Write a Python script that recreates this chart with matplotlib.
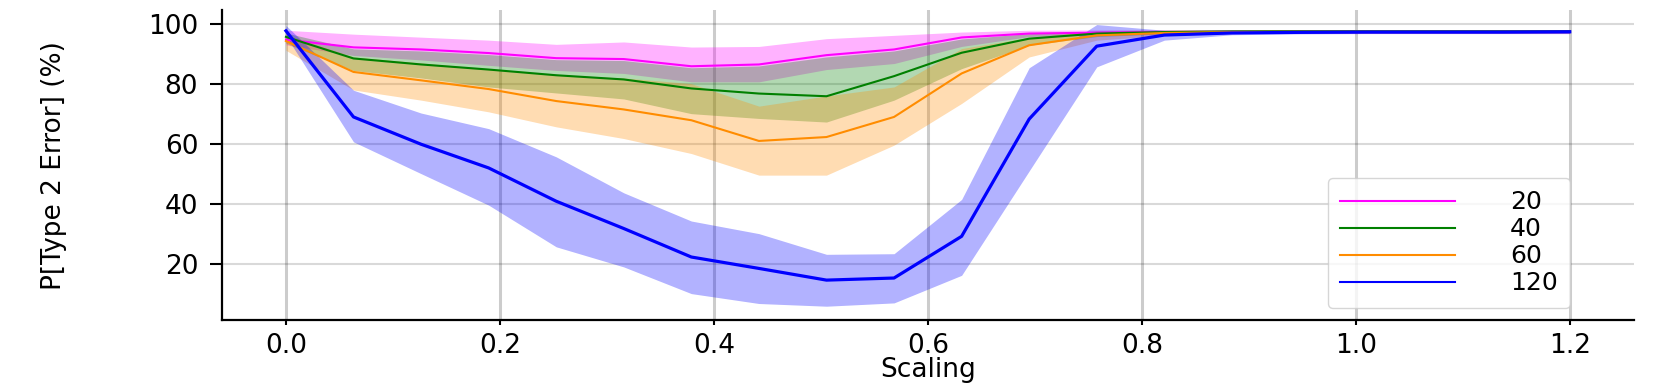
"""Type 2 error vs scaling, one band per sample size (mean line + spread band)."""
import numpy as np
import matplotlib
matplotlib.use("Agg")
import matplotlib.pyplot as plt
from matplotlib.lines import Line2D

# scaling grid (20 evaluation points between 0 and 1.2)
scaling = np.linspace(0.0, 1.2, 20)

# sample size 20
mean_20 = [94.8, 92.2, 91.5, 90.3, 88.6, 88.3, 85.9, 86.5, 89.6, 91.5,
           95.5, 96.8, 97.1, 97.3, 97.4, 97.4, 97.4, 97.4, 97.4, 97.4]
hi_20 = [97.9, 96.6, 95.6, 94.6, 93.2, 94.0, 92.3, 92.5, 95.1, 96.2,
         97.3, 97.9, 98.0, 98.1, 98.1, 98.1, 98.1, 98.1, 98.1, 98.1]
lo_20 = [93.0, 89.5, 88.0, 86.2, 84.5, 83.5, 80.7, 80.7, 84.8, 86.8,
         92.5, 95.8, 96.3, 96.6, 96.8, 96.8, 96.8, 96.8, 96.8, 96.8]

# sample size 40
mean_40 = [95.7, 88.5, 86.5, 84.8, 82.9, 81.5, 78.5, 76.8, 75.9, 82.6,
           90.4, 95.1, 96.8, 97.3, 97.5, 97.6, 97.6, 97.6, 97.6, 97.6]
hi_40 = [97.0, 91.7, 91.0, 89.8, 88.1, 87.8, 85.4, 86.0, 89.0, 91.0,
         95.0, 96.8, 97.6, 97.9, 98.0, 98.0, 98.0, 98.0, 98.0, 98.0]
lo_40 = [93.5, 84.5, 82.0, 79.0, 77.0, 75.0, 70.1, 68.5, 67.3, 74.6,
         85.1, 92.9, 95.8, 96.7, 97.0, 97.1, 97.1, 97.1, 97.1, 97.1]

# sample size 60
mean_60 = [94.3, 84.0, 81.2, 78.3, 74.3, 71.5, 67.9, 61.0, 62.3, 69.0,
           83.5, 92.9, 96.2, 97.0, 97.3, 97.4, 97.4, 97.4, 97.4, 97.4]
hi_60 = [96.5, 89.0, 87.0, 85.0, 83.0, 82.0, 80.1, 72.6, 76.0, 79.0,
         91.8, 95.5, 97.6, 97.9, 98.0, 98.0, 98.0, 98.0, 98.0, 98.0]
lo_60 = [91.2, 78.0, 74.6, 70.7, 65.7, 61.8, 56.8, 49.6, 49.6, 59.6,
         73.5, 89.0, 94.6, 96.2, 96.8, 96.9, 96.9, 96.9, 96.9, 96.9]

# sample size 120
mean_120 = [97.7, 69.0, 59.9, 52.0, 40.9, 31.8, 22.3, 18.5, 14.6, 15.3,
            29.2, 68.3, 92.6, 96.3, 97.0, 97.2, 97.3, 97.3, 97.3, 97.4]
hi_120 = [99.5, 77.9, 70.3, 65.1, 55.7, 43.7, 34.3, 30.1, 23.2, 23.4,
          41.5, 85.4, 99.8, 97.9, 97.6, 97.7, 97.8, 97.8, 97.8, 97.8]
lo_120 = [96.0, 60.7, 50.1, 39.6, 25.7, 19.0, 10.1, 6.8, 5.9, 7.0,
          16.2, 51.0, 85.7, 94.6, 96.4, 96.7, 96.8, 96.8, 96.8, 96.8]

labels = ["20", "40", "60", "120"]
colors = ["magenta", "green", "darkorange", "blue"]
means = [mean_20, mean_40, mean_60, mean_120]
his = [hi_20, hi_40, hi_60, hi_120]
los = [lo_20, lo_40, lo_60, lo_120]
widths = [1.5, 1.5, 1.5, 2.3]

fig = plt.figure(figsize=(16.61, 3.88), dpi=100)
ax = fig.add_axes([0.1335, 0.1745, 0.8502, 0.7985])

for m, hi, lo, c, lw in zip(means, his, los, colors, widths):
    ax.fill_between(scaling, lo, hi, color=c, alpha=0.3, lw=0)
    ax.plot(scaling, m, color=c, lw=lw)

ax.xaxis.grid(True, color="k", alpha=0.2, lw=2.2)
ax.yaxis.grid(True, color="k", alpha=0.15, lw=1.5)
ax.set_axisbelow(True)
for s in ("top", "right"):
    ax.spines[s].set_visible(False)
for s in ("left", "bottom"):
    ax.spines[s].set_linewidth(1.6)

ax.set_yticks([20, 40, 60, 80, 100])
ax.set_xticks([0.0, 0.2, 0.4, 0.6, 0.8, 1.0, 1.2])
ax.tick_params(axis="y", labelsize=19, length=9, width=1.5, pad=8)
ax.tick_params(axis="x", labelsize=19, length=3.5, width=1.5, pad=6)
ax.set_xlabel("Scaling", fontsize=19, labelpad=-2)
ax.set_ylabel("P[Type 2 Error] (%)", fontsize=19, labelpad=58)

handles = [Line2D([], [], color=c, lw=1.5) for c in colors]
ax.legend(handles, labels, loc="lower right", bbox_to_anchor=(0.955, 0.04),
          borderaxespad=0, fontsize=18, handlelength=4.6, handletextpad=2.2,
          labelspacing=0.12, borderpad=0.5, framealpha=0.8)

fig.savefig("out.png", dpi=100)
